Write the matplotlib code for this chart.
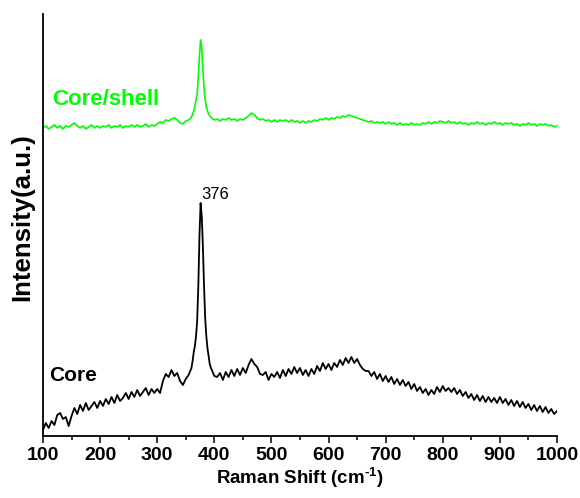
import numpy as np
import matplotlib
matplotlib.use('Agg')
import matplotlib.pyplot as plt
from matplotlib.ticker import MultipleLocator

# Raman shift grid (cm^-1), denser around the 376 peak
shift = np.concatenate([np.arange(100, 360, 5), np.arange(360, 395, 2), np.arange(395, 1001, 5)])

# intensities (arbitrary units)
core = [
    6, 13, 8, 15, 11, 21, 23, 17, 19, 10,
    20, 28, 22, 31, 25, 33, 26, 30, 34, 28,
    35, 30, 37, 32, 39, 33, 41, 35, 38, 43,
    37, 44, 39, 46, 40, 44, 48, 41, 47, 43,
    47, 43, 55, 62, 59, 66, 60, 63, 55, 51,
    57, 61,
    68, 75, 84, 90, 100, 115, 150, 200, 233, 220, 190, 150, 118, 100, 88, 80, 72, 68,
    67, 60, 59, 63, 56, 64, 59, 66, 60, 67,
    61, 68, 63, 71, 77, 72, 69, 62, 61, 64,
    56, 62, 59, 64, 58, 66, 60, 67, 62, 69,
    63, 68, 61, 66, 60, 67, 62, 70, 65, 73,
    67, 72, 66, 73, 69, 76, 71, 78, 73, 79,
    73, 77, 71, 67, 65, 65, 60, 64, 57, 62,
    55, 60, 54, 59, 52, 57, 51, 56, 50, 54,
    47, 52, 45, 49, 43, 47, 41, 46, 42, 49,
    44, 50, 45, 48, 44, 48, 42, 46, 40, 44,
    38, 42, 36, 41, 35, 40, 34, 39, 34, 38,
    33, 39, 33, 37, 31, 36, 30, 35, 29, 34,
    28, 32, 26, 31, 25, 30, 24, 29, 23, 27,
    22, 25,
]

core_shell = [
    308, 310, 307, 309, 311, 308, 310, 307, 310, 309,
    311, 313, 310, 308, 310, 307, 309, 311, 308, 310,
    308, 310, 309, 311, 308, 310, 309, 311, 308, 310,
    309, 311, 309, 311, 309, 310, 312, 309, 311, 310,
    312, 314, 313, 316, 315, 317, 318, 316, 313, 312,
    315, 316,
    319, 322, 325, 330, 336, 342, 360, 380, 396, 388, 365, 348, 336, 329, 325, 322, 320, 319,
    318, 316, 317, 315, 317, 316, 318, 316, 317, 315,
    317, 316, 318, 320, 323, 321, 318, 316, 317, 315,
    316, 314, 316, 314, 316, 315, 316, 314, 316, 314,
    315, 313, 315, 313, 315, 314, 316, 315, 317, 316,
    318, 316, 318, 317, 319, 318, 320, 319, 321, 320,
    319, 318, 317, 316, 315, 314, 315, 313, 314, 313,
    314, 312, 314, 312, 313, 311, 313, 311, 312, 311,
    313, 311, 312, 311, 313, 312, 314, 312, 314, 313,
    315, 314, 313, 315, 313, 314, 312, 314, 312, 313,
    311, 313, 312, 314, 312, 313, 311, 313, 312, 314,
    312, 313, 311, 313, 312, 313, 311, 312, 310, 312,
    311, 313, 311, 312, 310, 312, 311, 312, 310, 311,
    309, 310,
]

xticks = [100, 200, 300, 400, 500, 600, 700, 800, 900, 1000]

plt.rcParams['font.family'] = ['Liberation Sans', 'DejaVu Sans']
plt.rcParams['mathtext.fontset'] = 'custom'
plt.rcParams['mathtext.rm'] = 'Liberation Sans:bold'
plt.rcParams['mathtext.bf'] = 'Liberation Sans:bold'
plt.rcParams['mathtext.it'] = 'Liberation Sans:bold'

fig = plt.figure(figsize=(5.8, 4.98), dpi=100)
ax = fig.add_axes([0.0741, 0.1245, 0.8862, 0.8475])

ax.plot(shift, core, color='black', lw=1.3)
ax.plot(shift, core_shell, color='#00ff00', lw=1.2)

ax.set_xlim(100, 1000)
ax.set_ylim(0, 422)

ax.spines['top'].set_visible(False)
ax.spines['right'].set_visible(False)
ax.spines['left'].set_linewidth(1.3)
ax.spines['bottom'].set_linewidth(1.3)

ax.set_xticks(xticks)
ax.xaxis.set_minor_locator(MultipleLocator(50))
ax.tick_params(axis='x', which='major', direction='out', length=5, width=1.1, labelsize=14, pad=3)
ax.tick_params(axis='x', which='minor', direction='out', length=3, width=1.1)
ax.set_yticks([])
for lab in ax.get_xticklabels():
    lab.set_fontweight('bold')

ax.set_xlabel('Raman Shift (cm$^{\\text{-}1}$)', fontsize=13.5, fontweight='bold', labelpad=1)
ax.set_ylabel('Intensity(a.u.)', fontsize=18.5, fontweight='bold')
ax.yaxis.set_label_coords(-0.017, 0.518)

ax.text(116, 336, 'Core/shell', color='#00ff00', fontsize=16, fontweight='bold', va='center', ha='left')
ax.text(111, 60, 'Core', color='black', fontsize=15, fontweight='bold', va='center', ha='left')
ax.text(377, 234, '376', color='black', fontsize=12, va='bottom', ha='left')

fig.savefig('out.png', dpi=100)
